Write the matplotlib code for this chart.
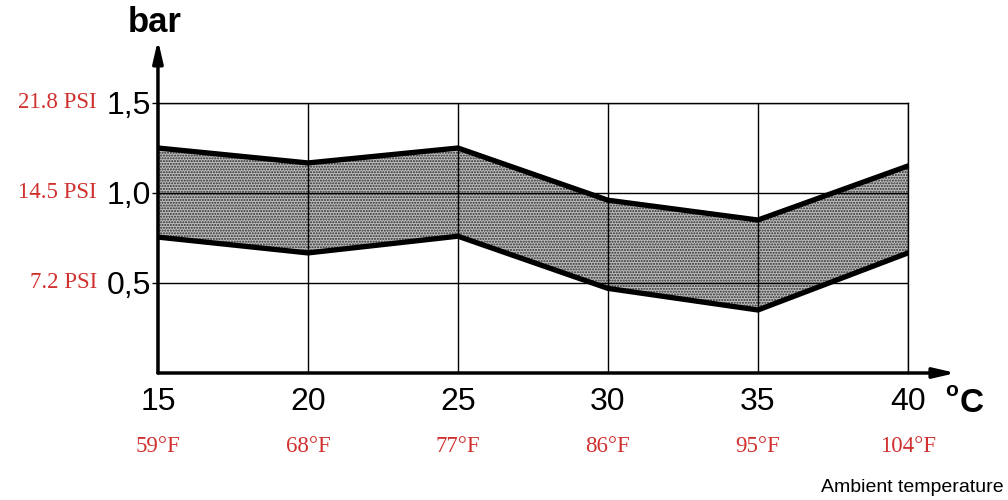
import numpy as np
import matplotlib.pyplot as plt

temp_c = [15, 20, 25, 30, 35, 40]
temp_f = ["59°F", "68°F", "77°F", "86°F", "95°F", "104°F"]
upper_bar = [1.25, 1.167, 1.25, 0.96, 0.85, 1.15]
lower_bar = [0.755, 0.667, 0.76, 0.47, 0.35, 0.667]
y_ticks = [0.5, 1.0, 1.5]
y_labels = ["0,5", "1,0", "1,5"]
psi_labels = ["7.2 PSI", "14.5 PSI", "21.8 PSI"]

red = "#d0302e"
plt.rcParams['hatch.color'] = '#2a2a2a'
plt.rcParams['hatch.linewidth'] = 1.0

fig = plt.figure(figsize=(10.08, 5), dpi=100)
ax = fig.add_axes([0.1567, 0.254, 0.744, 0.540])

ax.fill_between(temp_c, lower_bar, upper_bar, facecolor='#bdbdbd',
                hatch='......', edgecolor='#2a2a2a', linewidth=0, zorder=2)
ax.plot(temp_c, upper_bar, color='black', lw=3.8, zorder=3,
        solid_joinstyle='miter')
ax.plot(temp_c, lower_bar, color='black', lw=3.8, zorder=3,
        solid_joinstyle='miter')

ax.set_xlim(15, 40)
ax.set_ylim(0, 1.5)
ax.set_xticks(temp_c)
ax.set_xticklabels([str(t) for t in temp_c], fontsize=23,
                   family='Liberation Sans')
ax.set_yticks(y_ticks)
ax.set_yticklabels(y_labels, fontsize=23, family='Liberation Sans')
ax.tick_params(axis='x', length=0, pad=10)
ax.tick_params(axis='y', length=4, width=1, pad=1)
ax.grid(True, color='black', lw=1)
ax.set_axisbelow(False)

for side in ['top', 'right']:
    ax.spines[side].set_linewidth(1)
for side in ['left', 'bottom']:
    ax.spines[side].set_visible(False)

# axis arrows
ax.annotate('', xy=(15, 1.85), xytext=(15, 0), xycoords='data',
            arrowprops=dict(arrowstyle='-|>,head_length=1.3,head_width=0.3',
                            color='black', lw=2.5, shrinkA=0, shrinkB=0),
            annotation_clip=False)
ax.annotate('', xy=(41.6, 0), xytext=(15, 0), xycoords='data',
            arrowprops=dict(arrowstyle='-|>,head_length=1.3,head_width=0.3',
                            color='black', lw=2.5, shrinkA=0, shrinkB=0),
            annotation_clip=False)

for y, lab in zip(y_ticks, psi_labels):
    fig.text(97 / 1008, 1 - (373 - y * 180) / 500, lab, color=red,
             fontsize=16.5, family='Liberation Serif', ha='right', va='center')

for t, lab in zip(temp_c, temp_f):
    x = (158 + (t - 15) * 30) / 1008
    fig.text(x, 1 - 446 / 500, lab, color=red, fontsize=16.5,
             family='Liberation Serif', ha='center', va='center')

fig.text(155 / 1008, 1 - 22 / 500, 'bar', fontsize=25, fontweight='bold',
         family='Liberation Sans', ha='center', va='center')
fig.text(952 / 1008, 1 - 390 / 500, 'o', fontsize=15, fontweight='bold',
         family='Liberation Sans', ha='center', va='center')
fig.text(972 / 1008, 1 - 404 / 500, 'C', fontsize=24, fontweight='bold',
         family='Liberation Sans', ha='center', va='center')
fig.text(1004 / 1008, 1 - 487 / 500, 'Ambient temperature', fontsize=14,
         family='Liberation Sans', ha='right', va='center')

fig.savefig('out.png', dpi=100, facecolor='white')
